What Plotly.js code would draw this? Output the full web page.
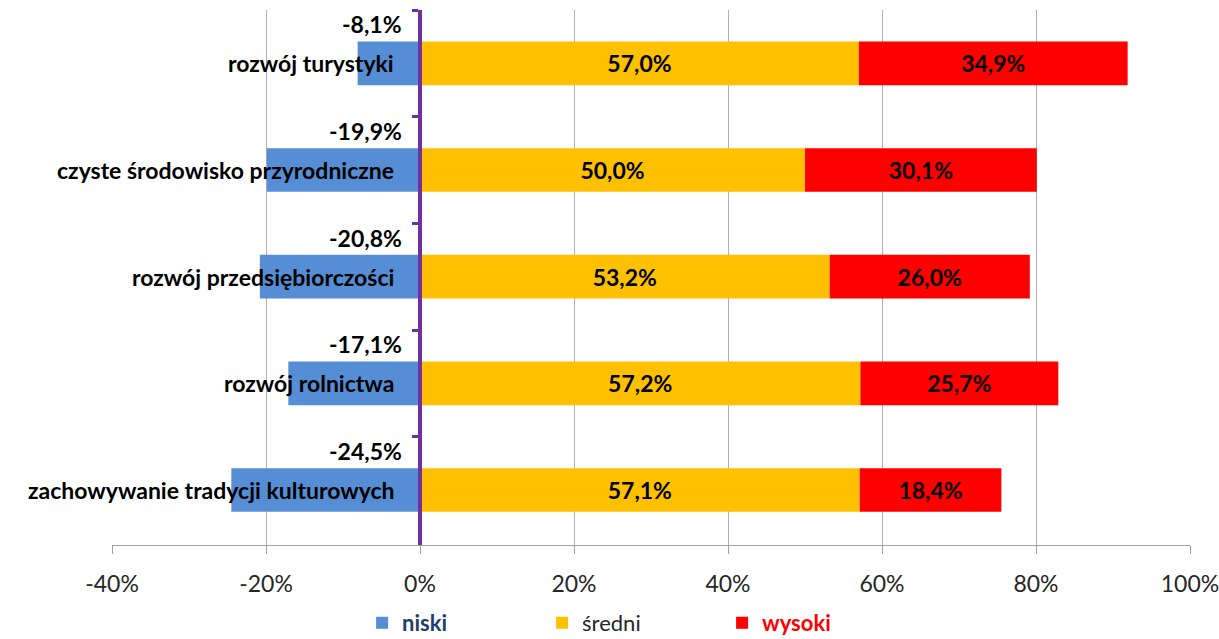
<!DOCTYPE html>
<html>
<head>
<meta charset="utf-8">
<script src="https://cdn.plot.ly/plotly-3.0.1.min.js"></script>
<style>html,body{margin:0;padding:0;background:#fff;}#chart{width:1219px;height:639px;}</style>
</head>
<body>
<div id="chart"></div>
<script>
const categories = ["rozwój turystyki", "czyste środowisko przyrodniczne", "rozwój przedsiębiorczości", "rozwój rolnictwa", "zachowywanie tradycji kulturowych"];
const niski = [-8.1, -19.9, -20.8, -17.1, -24.5];
const sredni = [57.0, 50.0, 53.2, 57.2, 57.1];
const wysoki = [34.9, 30.1, 26.0, 25.7, 18.4];
const seriesNames = ["niski", "średni", "wysoki"];
const xTicks = [-40, -20, 0, 20, 40, 60, 80, 100];

const fmt = v => v.toFixed(1).replace('.', ',') + '%';
const FONT = 'Lato, "Open Sans", sans-serif';

const common = {
  type: 'bar', orientation: 'h', y: categories, hoverinfo: 'skip',
  textposition: 'inside', insidetextanchor: 'middle', textangle: 0,
  textfont: {family: FONT, size: 23, color: '#000', weight: 'bold'}
};

const traces = [
  Object.assign({}, common, {x: niski, name: '<span style="color:#1F3D6E">' + seriesNames[0] + '</span>', marker: {color: '#558ED5'}, text: niski.map(() => ''), textposition: 'none'}),
  Object.assign({}, common, {x: sredni, name: '<span style="color:#262626;font-weight:normal">' + seriesNames[1] + '</span>', marker: {color: '#FFC000'}, text: sredni.map(fmt)}),
  Object.assign({}, common, {x: wysoki, name: '<span style="color:#FF0000">' + seriesNames[2] + '</span>', marker: {color: '#FF0000'}, text: wysoki.map(fmt)})
];

const annotations = [];
categories.forEach((c, i) => {
  annotations.push({x: 0, y: c, xref: 'x', yref: 'y', text: c, showarrow: false, xanchor: 'right', yanchor: 'middle', xshift: -24, font: {family: FONT, size: 23, color: '#000', weight: 'bold'}});
  annotations.push({x: 0, y: c, xref: 'x', yref: 'y', text: fmt(niski[i]), showarrow: false, xanchor: 'right', yanchor: 'middle', xshift: -16, yshift: 39, font: {family: FONT, size: 23, color: '#000', weight: 'bold'}});
});

const layout = {
  width: 1219, height: 639,
  margin: {l: 112, r: 29, t: 10, b: 94, autoexpand: false},
  paper_bgcolor: '#fff', plot_bgcolor: '#fff',
  barmode: 'relative', bargap: 0.59,
  showlegend: true,
  legend: {orientation: 'h', x: 0.232, xanchor: 'left', y: -0.185, yanchor: 'bottom', entrywidth: 135, entrywidthmode: 'pixels', borderwidth: 0, font: {family: FONT, size: 22, weight: 'bold'}, traceorder: 'normal'},
  xaxis: {
    range: [-40, 100], tickvals: xTicks, ticktext: xTicks.map(v => v + '%'),
    showgrid: true, gridcolor: '#B0B0B0', gridwidth: 1,
    zeroline: false, showline: true, linecolor: '#A0A0A0', linewidth: 1,
    ticks: 'outside', ticklen: 8, tickcolor: '#A0A0A0',
    ticklabelstandoff: 10, ticklabeloverflow: 'allow',
    tickfont: {family: FONT, size: 23, color: '#262626'}, fixedrange: true
  },
  yaxis: {
    type: 'category', autorange: 'reversed',
    anchor: 'free', position: 40 / 140,
    showline: true, linecolor: '#7030A0', linewidth: 4,
    ticks: 'outside', tickson: 'boundaries', ticklen: 6, tickwidth: 3, tickcolor: '#7030A0',
    showticklabels: false, showgrid: false, zeroline: false, layer: 'above traces', fixedrange: true
  },
  annotations: annotations
};

Plotly.newPlot('chart', traces, layout, {displayModeBar: false, staticPlot: true});
</script>
</body>
</html>
